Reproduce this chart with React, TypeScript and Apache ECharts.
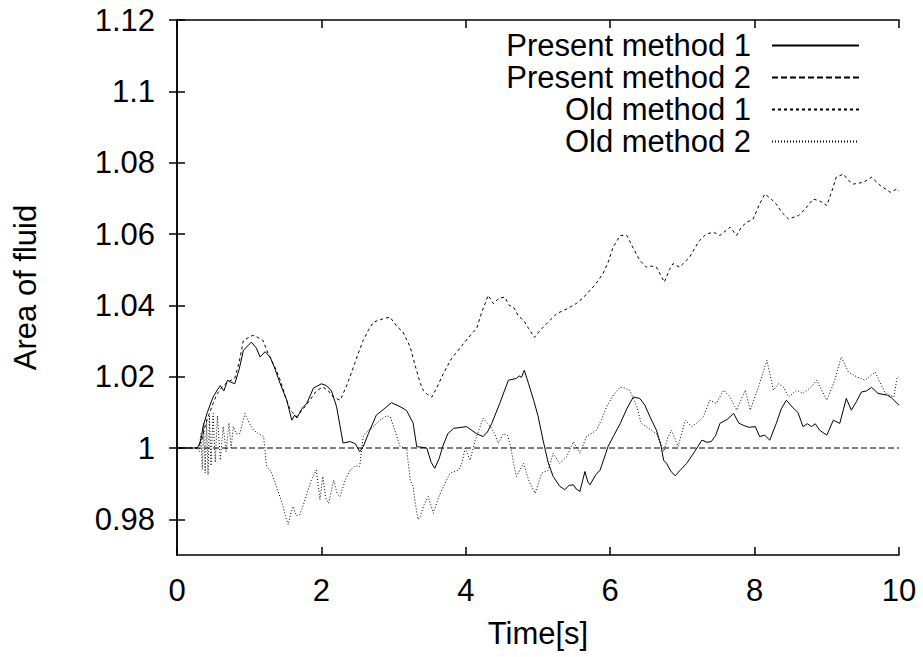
import React, { useEffect, useRef } from "react";
import * as echarts from "echarts";

const xTicks = [0, 2, 4, 6, 8, 10];
const yTicks = [0.98, 1.0, 1.02, 1.04, 1.06, 1.08, 1.1, 1.12];
const seriesNames = ["Present method 1", "Present method 2", "Old method 1", "Old method 2"];

const present1: [number, number][] = [
  [0, 1], [0.28, 1.0], [0.31, 1.001], [0.34, 1.0032], [0.36, 1.006], [0.42, 1.01], [0.5, 1.0143], [0.55, 1.016],
  [0.6, 1.0175], [0.65, 1.016], [0.7, 1.019], [0.73, 1.0186], [0.8, 1.018], [0.86, 1.022], [0.92, 1.0274],
  [1.03, 1.0297], [1.1, 1.028], [1.15, 1.0255], [1.22, 1.027], [1.29, 1.0255], [1.36, 1.022], [1.43, 1.018],
  [1.52, 1.0134], [1.59, 1.0078], [1.63, 1.0092], [1.66, 1.0084], [1.73, 1.011], [1.8, 1.0126], [1.89, 1.0168],
  [2.0, 1.018], [2.07, 1.0175], [2.14, 1.016], [2.21, 1.0116], [2.3, 1.0014], [2.4, 1.0018], [2.47, 1.0012],
  [2.53, 0.999], [2.58, 1.0004], [2.65, 1.004], [2.76, 1.0092], [2.87, 1.011], [2.97, 1.0127], [3.09, 1.0116],
  [3.18, 1.0105], [3.27, 1.007], [3.32, 1.0004], [3.46, 1.0], [3.52, 0.996], [3.57, 0.9943], [3.63, 0.997],
  [3.68, 1.0004], [3.75, 1.004], [3.83, 1.0055], [4.01, 1.006], [4.15, 1.004], [4.24, 1.0032], [4.3, 1.0045],
  [4.36, 1.0069], [4.47, 1.0125], [4.59, 1.019], [4.7, 1.0195], [4.74, 1.0202], [4.77, 1.0198], [4.81, 1.0218],
  [4.87, 1.018], [4.94, 1.0134], [5.0, 1.009], [5.07, 1.0022], [5.14, 0.996], [5.21, 0.992], [5.3, 0.9893],
  [5.37, 0.9883], [5.43, 0.9895], [5.49, 0.9897], [5.53, 0.9885], [5.58, 0.9878], [5.62, 0.991], [5.65, 0.9934],
  [5.69, 0.9905], [5.72, 0.9897], [5.8, 0.9925], [5.86, 0.9938], [5.97, 1.0004], [6.05, 1.0035], [6.14, 1.0069],
  [6.23, 1.011], [6.32, 1.0143], [6.41, 1.0139], [6.48, 1.012], [6.55, 1.0088], [6.64, 1.005], [6.7, 1.001],
  [6.74, 0.9966], [6.78, 0.9957], [6.84, 0.9935], [6.9, 0.9922], [6.98, 0.994], [7.06, 0.9957], [7.17, 0.999],
  [7.27, 1.0022], [7.34, 1.0016], [7.4, 1.0018], [7.46, 1.0035], [7.52, 1.0069], [7.62, 1.008], [7.71, 1.0097],
  [7.78, 1.007], [7.84, 1.0064], [7.92, 1.0058], [8.01, 1.006], [8.07, 1.0032], [8.14, 1.0036], [8.21, 1.0022],
  [8.3, 1.0069], [8.37, 1.011], [8.44, 1.0134], [8.52, 1.0115], [8.6, 1.01], [8.67, 1.006], [8.73, 1.0068],
  [8.79, 1.006], [8.84, 1.0068], [8.9, 1.005], [9.0, 1.0036], [9.09, 1.0078], [9.18, 1.0069], [9.27, 1.0139],
  [9.34, 1.0106], [9.41, 1.013], [9.48, 1.0157], [9.55, 1.016], [9.62, 1.017], [9.71, 1.0153], [9.84, 1.0148],
  [9.9, 1.014], [10, 1.012],
];

const present2: [number, number][] = [[0, 1.0], [10, 1.0]];

const old1: [number, number][] = [
  [0, 1], [0.28, 1.0], [0.34, 1.002], [0.4, 1.007], [0.5, 1.0125], [0.55, 1.015], [0.62, 1.017], [0.7, 1.0185],
  [0.8, 1.0195], [0.86, 1.024], [0.92, 1.0302], [1.05, 1.0316], [1.12, 1.031], [1.19, 1.0302], [1.26, 1.0266],
  [1.35, 1.023], [1.43, 1.019], [1.5, 1.0145], [1.57, 1.0106], [1.66, 1.0088], [1.75, 1.011], [1.84, 1.0134],
  [1.93, 1.016], [2.02, 1.0171], [2.1, 1.016], [2.16, 1.0143], [2.26, 1.0134], [2.34, 1.017], [2.42, 1.0213],
  [2.5, 1.026], [2.58, 1.0302], [2.65, 1.033], [2.72, 1.0353], [2.85, 1.0362], [2.95, 1.0367], [3.05, 1.034],
  [3.13, 1.0325], [3.23, 1.0283], [3.3, 1.023], [3.37, 1.0181], [3.41, 1.0162], [3.47, 1.015], [3.53, 1.0143],
  [3.6, 1.017], [3.69, 1.0209], [3.8, 1.025], [3.97, 1.0293], [4.08, 1.032], [4.15, 1.0335], [4.22, 1.038],
  [4.31, 1.0428], [4.38, 1.0405], [4.46, 1.042], [4.54, 1.0423], [4.6, 1.04], [4.66, 1.0395], [4.73, 1.037],
  [4.8, 1.0358], [4.87, 1.0335], [4.95, 1.031], [5.03, 1.033], [5.15, 1.0355], [5.26, 1.0377], [5.4, 1.039],
  [5.53, 1.0405], [5.62, 1.042], [5.72, 1.0442], [5.8, 1.046], [5.9, 1.0489], [5.97, 1.052], [6.04, 1.0563],
  [6.14, 1.0596], [6.23, 1.0596], [6.32, 1.056], [6.41, 1.0526], [6.5, 1.0507], [6.57, 1.051], [6.64, 1.0507],
  [6.75, 1.0465], [6.82, 1.05], [6.87, 1.0517], [6.96, 1.0507], [7.1, 1.0535], [7.17, 1.056], [7.24, 1.0582],
  [7.33, 1.06], [7.43, 1.0605], [7.52, 1.0596], [7.66, 1.0619], [7.75, 1.0596], [7.82, 1.062], [7.89, 1.0633],
  [7.98, 1.0642], [8.06, 1.068], [8.14, 1.0712], [8.22, 1.07], [8.3, 1.0684], [8.38, 1.066], [8.47, 1.0642],
  [8.61, 1.0652], [8.7, 1.067], [8.81, 1.0698], [8.9, 1.0693], [9.0, 1.068], [9.07, 1.072], [9.13, 1.0759],
  [9.23, 1.0768], [9.3, 1.075], [9.37, 1.074], [9.51, 1.0745], [9.62, 1.0759], [9.74, 1.0736], [9.88, 1.0717],
  [9.97, 1.0726], [10, 1.072],
];

const old2: [number, number][] = [
  [0, 1], [0.28, 1.0], [0.31, 0.999], [0.33, 1.004], [0.35, 0.994], [0.37, 1.007], [0.39, 0.993], [0.41, 1.008],
  [0.43, 0.9925], [0.45, 1.009], [0.47, 0.995], [0.5, 1.0097], [0.53, 0.996], [0.56, 1.009], [0.6, 0.9966],
  [0.64, 1.006], [0.68, 0.999], [0.72, 1.007], [0.75, 1.0], [0.78, 1.006], [0.82, 1.004], [0.87, 1.004],
  [0.94, 1.0097], [1.0, 1.007], [1.06, 1.005], [1.13, 1.004], [1.2, 1.0032], [1.24, 0.9948], [1.3, 0.9935],
  [1.38, 0.9892], [1.43, 0.986], [1.47, 0.9836], [1.5, 0.981], [1.54, 0.9785], [1.58, 0.982], [1.61, 0.9836],
  [1.65, 0.981], [1.7, 0.9813], [1.75, 0.984], [1.8, 0.9873], [1.86, 0.991], [1.93, 0.9938], [1.98, 0.9855],
  [2.02, 0.992], [2.06, 0.986], [2.1, 0.9845], [2.17, 0.991], [2.22, 0.987], [2.26, 0.9864], [2.33, 0.991],
  [2.4, 0.9938], [2.47, 0.995], [2.53, 0.9948], [2.58, 1.0032], [2.65, 1.005], [2.72, 1.006], [2.81, 1.0078],
  [2.9, 1.009], [2.95, 1.0088], [3.0, 1.006], [3.09, 1.0004], [3.18, 0.9999], [3.23, 0.991], [3.27, 0.9892],
  [3.3, 0.9845], [3.34, 0.9799], [3.37, 0.981], [3.42, 0.984], [3.48, 0.9864], [3.55, 0.9817], [3.62, 0.986],
  [3.69, 0.9892], [3.78, 0.9929], [3.9, 0.9938], [3.95, 0.996], [3.99, 0.9999], [4.06, 0.9966], [4.13, 1.0022],
  [4.18, 1.005], [4.24, 1.0083], [4.34, 1.006], [4.4, 1.004], [4.45, 1.0013], [4.52, 1.004], [4.58, 1.0035],
  [4.62, 1.0005], [4.66, 0.996], [4.7, 0.992], [4.8, 0.9957], [4.87, 0.991], [4.96, 0.9873], [5.05, 0.9929],
  [5.14, 0.9938], [5.21, 0.9985], [5.3, 0.9957], [5.4, 0.9976], [5.49, 1.0018], [5.58, 0.9985], [5.67, 1.0032],
  [5.81, 1.005], [5.88, 1.008], [5.95, 1.0116], [6.05, 1.015], [6.14, 1.0171], [6.2, 1.0168], [6.27, 1.0162],
  [6.37, 1.0116], [6.43, 1.0069], [6.5, 1.006], [6.57, 1.005], [6.64, 1.004], [6.74, 0.999], [6.8, 1.003],
  [6.85, 1.005], [6.94, 1.0004], [7.04, 1.0078], [7.13, 1.006], [7.2, 1.007], [7.29, 1.0088], [7.38, 1.0134],
  [7.47, 1.0125], [7.57, 1.0162], [7.66, 1.0143], [7.75, 1.0106], [7.87, 1.0162], [7.94, 1.0106], [8.07, 1.0181],
  [8.17, 1.0246], [8.26, 1.0162], [8.33, 1.018], [8.4, 1.0171], [8.47, 1.0143], [8.58, 1.0162], [8.67, 1.0153],
  [8.78, 1.017], [8.86, 1.019], [9.0, 1.0134], [9.11, 1.019], [9.2, 1.0255], [9.3, 1.0213], [9.41, 1.02],
  [9.53, 1.019], [9.67, 1.0213], [9.81, 1.0153], [9.93, 1.0143], [9.97, 1.0195], [10, 1.02],
];

const FONT = "'Liberation Sans', Arial, Helvetica, sans-serif";
const FS = 31;

export default function App() {
  const ref = useRef<HTMLDivElement>(null);

  useEffect(() => {
    if (!ref.current) return;
    const chart = echarts.init(ref.current, null, { renderer: "svg" });

    const axisCommon = {
      axisLine: { show: true, lineStyle: { color: "#000", width: 1.5 } },
      splitLine: { show: false },
    };
    const fmt = (v: number) => String(+Number(v).toFixed(2));

    const dashes: any[] = ["solid", [6, 3], [3, 3], [1, 2]];
    const datas = [present1, present2, old1, old2];
    const legendTops = [30, 62, 94, 126];

    const option: any = {
      animation: false,
      backgroundColor: "#fff",
      textStyle: { fontFamily: FONT },
      grid: { left: 177, right: 24, top: 20, bottom: 102, containLabel: false },
      legend: seriesNames.map((n, i) => ({
        data: [n],
        right: 63,
        top: legendTops[i],
        align: "right",
        orient: "vertical",
        padding: 0,
        itemWidth: 87,
        itemHeight: 12,
        selectedMode: false,
        itemStyle: { opacity: 0, color: "rgba(0,0,0,0)", borderWidth: 0 },
        textStyle: {
          fontFamily: FONT,
          fontSize: FS,
          lineHeight: 30,
          color: "#000",
          padding: [0, 16, 0, 0],
        },
      })),
      xAxis: [
        {
          type: "value",
          min: 0,
          max: 10,
          interval: 2,
          position: "bottom",
          name: "Time[s]",
          nameLocation: "middle",
          nameGap: 63,
          nameTextStyle: { fontFamily: FONT, fontSize: FS, color: "#000" },
          axisTick: { show: true, inside: true, length: 8, lineStyle: { color: "#000", width: 1.5 } },
          axisLabel: {
            show: true,
            margin: 20,
            fontFamily: FONT,
            fontSize: FS,
            color: "#000",
            formatter: (v: number) => (xTicks.includes(v) ? fmt(v) : ""),
          },
          ...axisCommon,
        },
        {
          type: "value",
          min: 0,
          max: 10,
          interval: 2,
          position: "top",
          axisTick: { show: true, inside: true, length: 8, lineStyle: { color: "#000", width: 1.5 } },
          axisLabel: { show: false },
          ...axisCommon,
        },
      ],
      yAxis: [
        {
          type: "value",
          min: 0.97,
          max: 1.12,
          position: "left",
          name: "Area of fluid",
          nameLocation: "middle",
          nameGap: 136,
          nameTextStyle: { fontFamily: FONT, fontSize: FS, color: "#000" },
          axisTick: {
            show: true,
            inside: true,
            length: 8,
            customValues: yTicks,
            lineStyle: { color: "#000", width: 1.5 },
          },
          axisLabel: {
            show: true,
            margin: 22,
            fontFamily: FONT,
            fontSize: FS,
            color: "#000",
            customValues: yTicks,
            formatter: fmt,
          },
          ...axisCommon,
        },
        {
          type: "value",
          min: 0.97,
          max: 1.12,
          position: "right",
          axisTick: {
            show: true,
            inside: true,
            length: 8,
            customValues: yTicks,
            lineStyle: { color: "#000", width: 1.5 },
          },
          axisLabel: { show: false, customValues: yTicks },
          ...axisCommon,
        },
      ],
      series: seriesNames.map((n, i) => ({
        name: n,
        type: "line",
        xAxisIndex: 0,
        yAxisIndex: 0,
        data: datas[i],
        symbol: "none",
        showSymbol: false,
        smooth: false,
        lineStyle: { color: "#000", width: 1, type: dashes[i] },
        itemStyle: { color: "#000" },
        emphasis: { disabled: true },
        z: i === 1 ? 2 : 3,
      })),
    };

    chart.setOption(option);
    return () => chart.dispose();
  }, []);

  return (
    <div
      ref={ref}
      style={{ position: "fixed", left: 0, top: 0, width: 923, height: 657, background: "#fff" }}
    />
  );
}
